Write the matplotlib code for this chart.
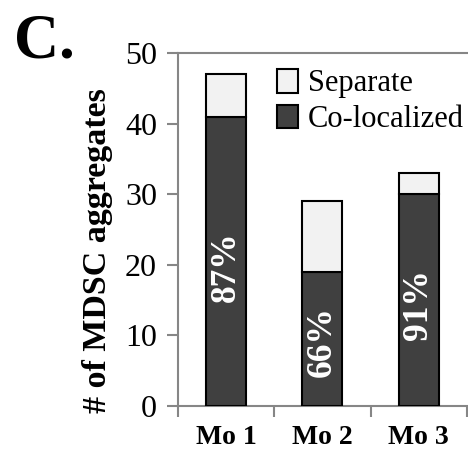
import numpy as np
import matplotlib.pyplot as plt
from matplotlib.ticker import FixedLocator

plt.rcParams['font.family'] = ['Liberation Serif', 'DejaVu Serif']

groups = ['Mo 1', 'Mo 2', 'Mo 3']
colocalized = np.array([41, 19, 30])
separate = np.array([6, 10, 3])
pct_labels = ['87%', '66%', '91%']

dark = '#404040'
light = '#f2f2f2'
gray = '#868686'

fig = plt.figure(figsize=(4.68, 4.55), dpi=100)
ax = fig.add_axes([0.380, 0.1084, 0.6175, 0.7745])

x = np.arange(len(groups))
ax.bar(x, colocalized, width=0.415, color=dark, edgecolor='black', linewidth=1.5,
       label='Co-localized', zorder=3)
ax.bar(x, separate, width=0.415, bottom=colocalized, color=light, edgecolor='black',
       linewidth=1.5, label='Separate', zorder=3)

for xi, co, txt in zip(x, colocalized, pct_labels):
    ax.text(xi, co * 0.48, txt, rotation=90, ha='center', va='center',
            color='white', fontsize=25.5, fontweight='bold', zorder=4)

ax.set_xlim(-0.5, 2.5)
ax.set_ylim(0, 50)
ax.set_yticks([0, 10, 20, 30, 40, 50])
ax.set_xticks(x)
ax.set_xticklabels(groups, fontsize=20, fontweight='bold')
ax.xaxis.set_minor_locator(FixedLocator([-0.5, 0.5, 1.5, 2.5]))
ax.tick_params(axis='x', which='major', length=0, pad=14)
ax.tick_params(axis='x', which='minor', length=8, width=1.5, color=gray, direction='out')
ax.tick_params(axis='y', length=8, width=1.5, color=gray, direction='out', pad=7,
               labelsize=23)

for side in ['left', 'top', 'bottom']:
    ax.spines[side].set_color(gray)
    ax.spines[side].set_linewidth(1.5)
ax.spines['right'].set_visible(False)

ax.set_ylabel('# of MDSC aggregates', fontsize=24.5, fontweight='bold')
ax.yaxis.set_label_coords(-0.277, 0.44)
ax.yaxis.label.set_va('center')

handles, labels = ax.get_legend_handles_labels()
ax.legend(handles[::-1], labels[::-1], loc='upper left', bbox_to_anchor=(0.343, 0.955),
          frameon=False, fontsize=22, handlelength=0.7, handleheight=0.8,
          handletextpad=0.3, labelspacing=0.2, borderaxespad=0, borderpad=0)

fig.text(0.03, 1 - 58 / 455, 'C.', fontsize=45, fontweight='bold', va='baseline',
         ha='left')

fig.savefig('out.png', dpi=100)
